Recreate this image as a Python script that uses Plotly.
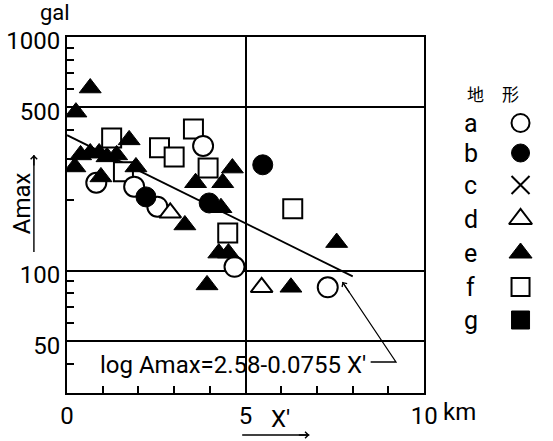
import numpy as np
import plotly.graph_objects as go

# ---- data: X' (km) and Amax (gal) per terrain class ----
a_x = [0.82, 1.88, 2.53, 3.81, 4.69, 7.30]          # a: open circle
a_y = [238, 229, 188, 342, 104, 85]
b_x = [2.21, 3.98, 5.48]                              # b: filled circle
b_y = [207, 195, 284]
d_x = [2.89, 5.45]                                    # d: open triangle
d_y = [177, 85]
e_x = [0.65, 0.25, 1.74, 0.22, 0.38, 0.65, 0.90, 1.12, 1.39, 0.95, 1.93,
       3.60, 4.36, 4.63, 4.31, 3.30, 4.25, 4.52, 3.92, 6.27, 7.55]   # e: filled triangle
e_y = [605, 477, 363, 278, 313, 319, 319, 307, 313, 252, 278,
       238, 238, 275, 186, 157, 119, 119, 87, 85, 132]
f_x = [1.25, 3.54, 2.59, 3.00, 3.95, 1.58, 4.50, 6.32]   # f: open square
f_y = [370, 404, 336, 307, 275, 265, 145, 184]

# regression: log Amax = 2.58 - 0.0755 X'
reg_a, reg_b = 2.58, 0.0755
reg_x = np.linspace(0.0, 8.0, 50)
reg_y = 10 ** (reg_a - reg_b * reg_x)

legend_keys = ["a", "b", "c", "d", "e", "f", "g"]
legend_symbols = ["circle", "circle", "x-thin-open", "triangle-up",
                  "triangle-up", "square", "square"]
legend_fill = ["white", "black", "black", "white", "black", "white", "black"]

y_ticks = [50, 100, 500, 1000]
y_minor = [40, 60, 70, 80, 90, 200, 300, 400, 600, 700, 800, 900]
x_ticks = [0, 5, 10]
x_minor = [1, 2, 3, 4, 6, 7, 8, 9]

# ---- page geometry helpers (pixel -> paper) ----
W, H = 553, 441
ML, MR, MT, MB = 67, 0, 37, 48
PW, PH = W - ML - MR, H - MT - MB


def px(x):
    return (x - ML) / PW


def py(y):
    return (H - MB - y) / PH


FONT = "Roboto"
BLACK = "black"

fig = go.Figure()

fig.add_trace(go.Scatter(x=reg_x, y=reg_y, mode="lines",
                         line=dict(color=BLACK, width=1.8), hoverinfo="skip"))


def open_marker(symbol, size):
    return dict(symbol=symbol, size=size, color="white",
                line=dict(color=BLACK, width=2))


def filled_marker(symbol, size):
    return dict(symbol=symbol, size=size, color=BLACK,
                line=dict(color=BLACK, width=1))


fig.add_trace(go.Scatter(x=f_x, y=f_y, mode="markers", marker=open_marker("square", 19)))
fig.add_trace(go.Scatter(x=a_x, y=a_y, mode="markers", marker=open_marker("circle", 20)))
fig.add_trace(go.Scatter(x=d_x, y=d_y, mode="markers", marker=open_marker("triangle-up", 19)))
fig.add_trace(go.Scatter(x=b_x, y=b_y, mode="markers", marker=filled_marker("circle", 20)))
fig.add_trace(go.Scatter(x=e_x, y=e_y, mode="markers", marker=filled_marker("triangle-up", 19)))

# ---- legend block (地形 a–g) on an auxiliary pixel-scaled axis ----
leg_rows = [123, 153, 185, 219, 253, 287, 320]
leg_letter_x, leg_symbol_x = 482, 533
for key, sym, fill, yy in zip(legend_keys, legend_symbols, legend_fill, leg_rows):
    if sym == "x-thin-open":
        mk = dict(symbol=sym, size=18, color=BLACK, line=dict(color=BLACK, width=2))
    elif sym == "triangle-up":
        mk = dict(symbol=sym, size=20, color=fill,
                  line=dict(color=BLACK, width=2 if fill == "white" else 1))
    elif fill == "white":
        mk = dict(symbol=sym, size=18, color="white", line=dict(color=BLACK, width=2))
    else:
        mk = dict(symbol=sym, size=18, color=BLACK, line=dict(color=BLACK, width=1))
    fig.add_trace(go.Scatter(x=[leg_symbol_x], y=[yy], mode="markers", marker=mk,
                             xaxis="x2", yaxis="y2", cliponaxis=False))
    fig.add_annotation(x=leg_letter_x, y=yy, xref="x2", yref="y2", text=key,
                       showarrow=False, font=dict(family=FONT, size=25, color=BLACK),
                       xanchor="center", yanchor="middle")
for ch, cx in (("地", 487), ("形", 523)):
    fig.add_annotation(x=cx, y=93, xref="x2", yref="y2", text=ch, showarrow=False,
                       font=dict(family="Noto Sans CJK JP", size=17, color=BLACK),
                       xanchor="center", yanchor="middle")

x_end = (434 - ML) / PW
fig.update_layout(
    width=W, height=H,
    margin=dict(l=ML, r=MR, t=MT, b=MB, pad=0),
    paper_bgcolor="white", plot_bgcolor="white",
    showlegend=False,
    xaxis=dict(domain=[0, x_end], range=[0, 10], tickvals=x_ticks,
               ticktext=["0", "5", "10"], ticks="inside", ticklen=7,
               tickwidth=1.5, tickcolor=BLACK,
               minor=dict(tickvals=x_minor, ticks="inside", ticklen=7,
                          tickwidth=1.5, tickcolor=BLACK, showgrid=False),
               showline=True, linewidth=2, linecolor=BLACK, mirror=True,
               showgrid=True, gridcolor=BLACK, gridwidth=1.5, zeroline=False,
               tickfont=dict(family=FONT, size=24, color=BLACK)),
    yaxis=dict(type="log", range=[np.log10(30), 3], tickvals=y_ticks,
               ticktext=[str(v) for v in y_ticks], ticks="inside", ticklen=8,
               tickwidth=1.5, tickcolor=BLACK, ticklabelshift=4,
               minor=dict(tickvals=y_minor, ticks="inside", ticklen=7,
                          tickwidth=1.5, tickcolor=BLACK, showgrid=False),
               showline=True, linewidth=2, linecolor=BLACK, mirror=True,
               showgrid=True, gridcolor=BLACK, gridwidth=1.5, zeroline=False,
               tickfont=dict(family=FONT, size=24, color=BLACK)),
    xaxis2=dict(domain=[x_end, 1], range=[434, W], visible=False, fixedrange=True),
    yaxis2=dict(domain=[0, 1], range=[H - MB, MT], anchor="x2", visible=False,
                fixedrange=True),
)


def line_px(x0, y0, x1, y1, width=1.4):
    fig.add_shape(type="line", xref="paper", yref="paper",
                  x0=px(x0), y0=py(y0), x1=px(x1), y1=py(y1),
                  line=dict(color=BLACK, width=width))


def head_px(x, y, dx, dy, width=1.4):
    # short arrow pointing at (x, y), coming from direction (dx, dy)
    fig.add_annotation(x=px(x), y=py(y), xref="paper", yref="paper", text="",
                       showarrow=True, ax=dx, ay=dy, arrowhead=4, arrowsize=0.9,
                       arrowwidth=width, arrowcolor=BLACK, standoff=0,
                       startstandoff=0)


# ---- axis titles, unit and equation label ----
fig.add_annotation(x=px(55), y=py(12), xref="paper", yref="paper", text="gal",
                   showarrow=False, font=dict(family=FONT, size=22, color=BLACK),
                   xanchor="center", yanchor="middle")
fig.add_annotation(x=px(21), y=py(203), xref="paper", yref="paper", text="Amax",
                   textangle=-90, showarrow=False,
                   font=dict(family=FONT, size=24, color=BLACK),
                   xanchor="center", yanchor="middle")
line_px(33, 252, 33, 155)
head_px(33, 155, 0, 12)
fig.add_annotation(x=px(286), y=py(419), xref="paper", yref="paper", text="X′",
                   showarrow=False, font=dict(family=FONT, size=24, color=BLACK),
                   xanchor="center", yanchor="middle")
line_px(247, 435, 316, 435)
head_px(316, 435, -12, 0)
fig.add_annotation(x=px(451), y=py(412), xref="paper", yref="paper", text="km",
                   showarrow=False, font=dict(family=FONT, size=24, color=BLACK),
                   xanchor="left", yanchor="middle")

fig.add_annotation(x=px(99), y=py(365), xref="paper", yref="paper",
                   text=f"log Amax={reg_a}-{reg_b} X′", showarrow=False,
                   font=dict(family=FONT, size=24, color=BLACK),
                   xanchor="left", yanchor="middle")
# leader from the equation to the end of the regression line
fig.add_shape(type="path", xref="paper", yref="paper",
              path=f"M {px(379)},{py(362)} L {px(405)},{py(362)} L {px(350)},{py(282)}",
              line=dict(color=BLACK, width=1.3))
head_px(350, 282, 8, 12, width=1.3)

fig.write_html("out.html")
